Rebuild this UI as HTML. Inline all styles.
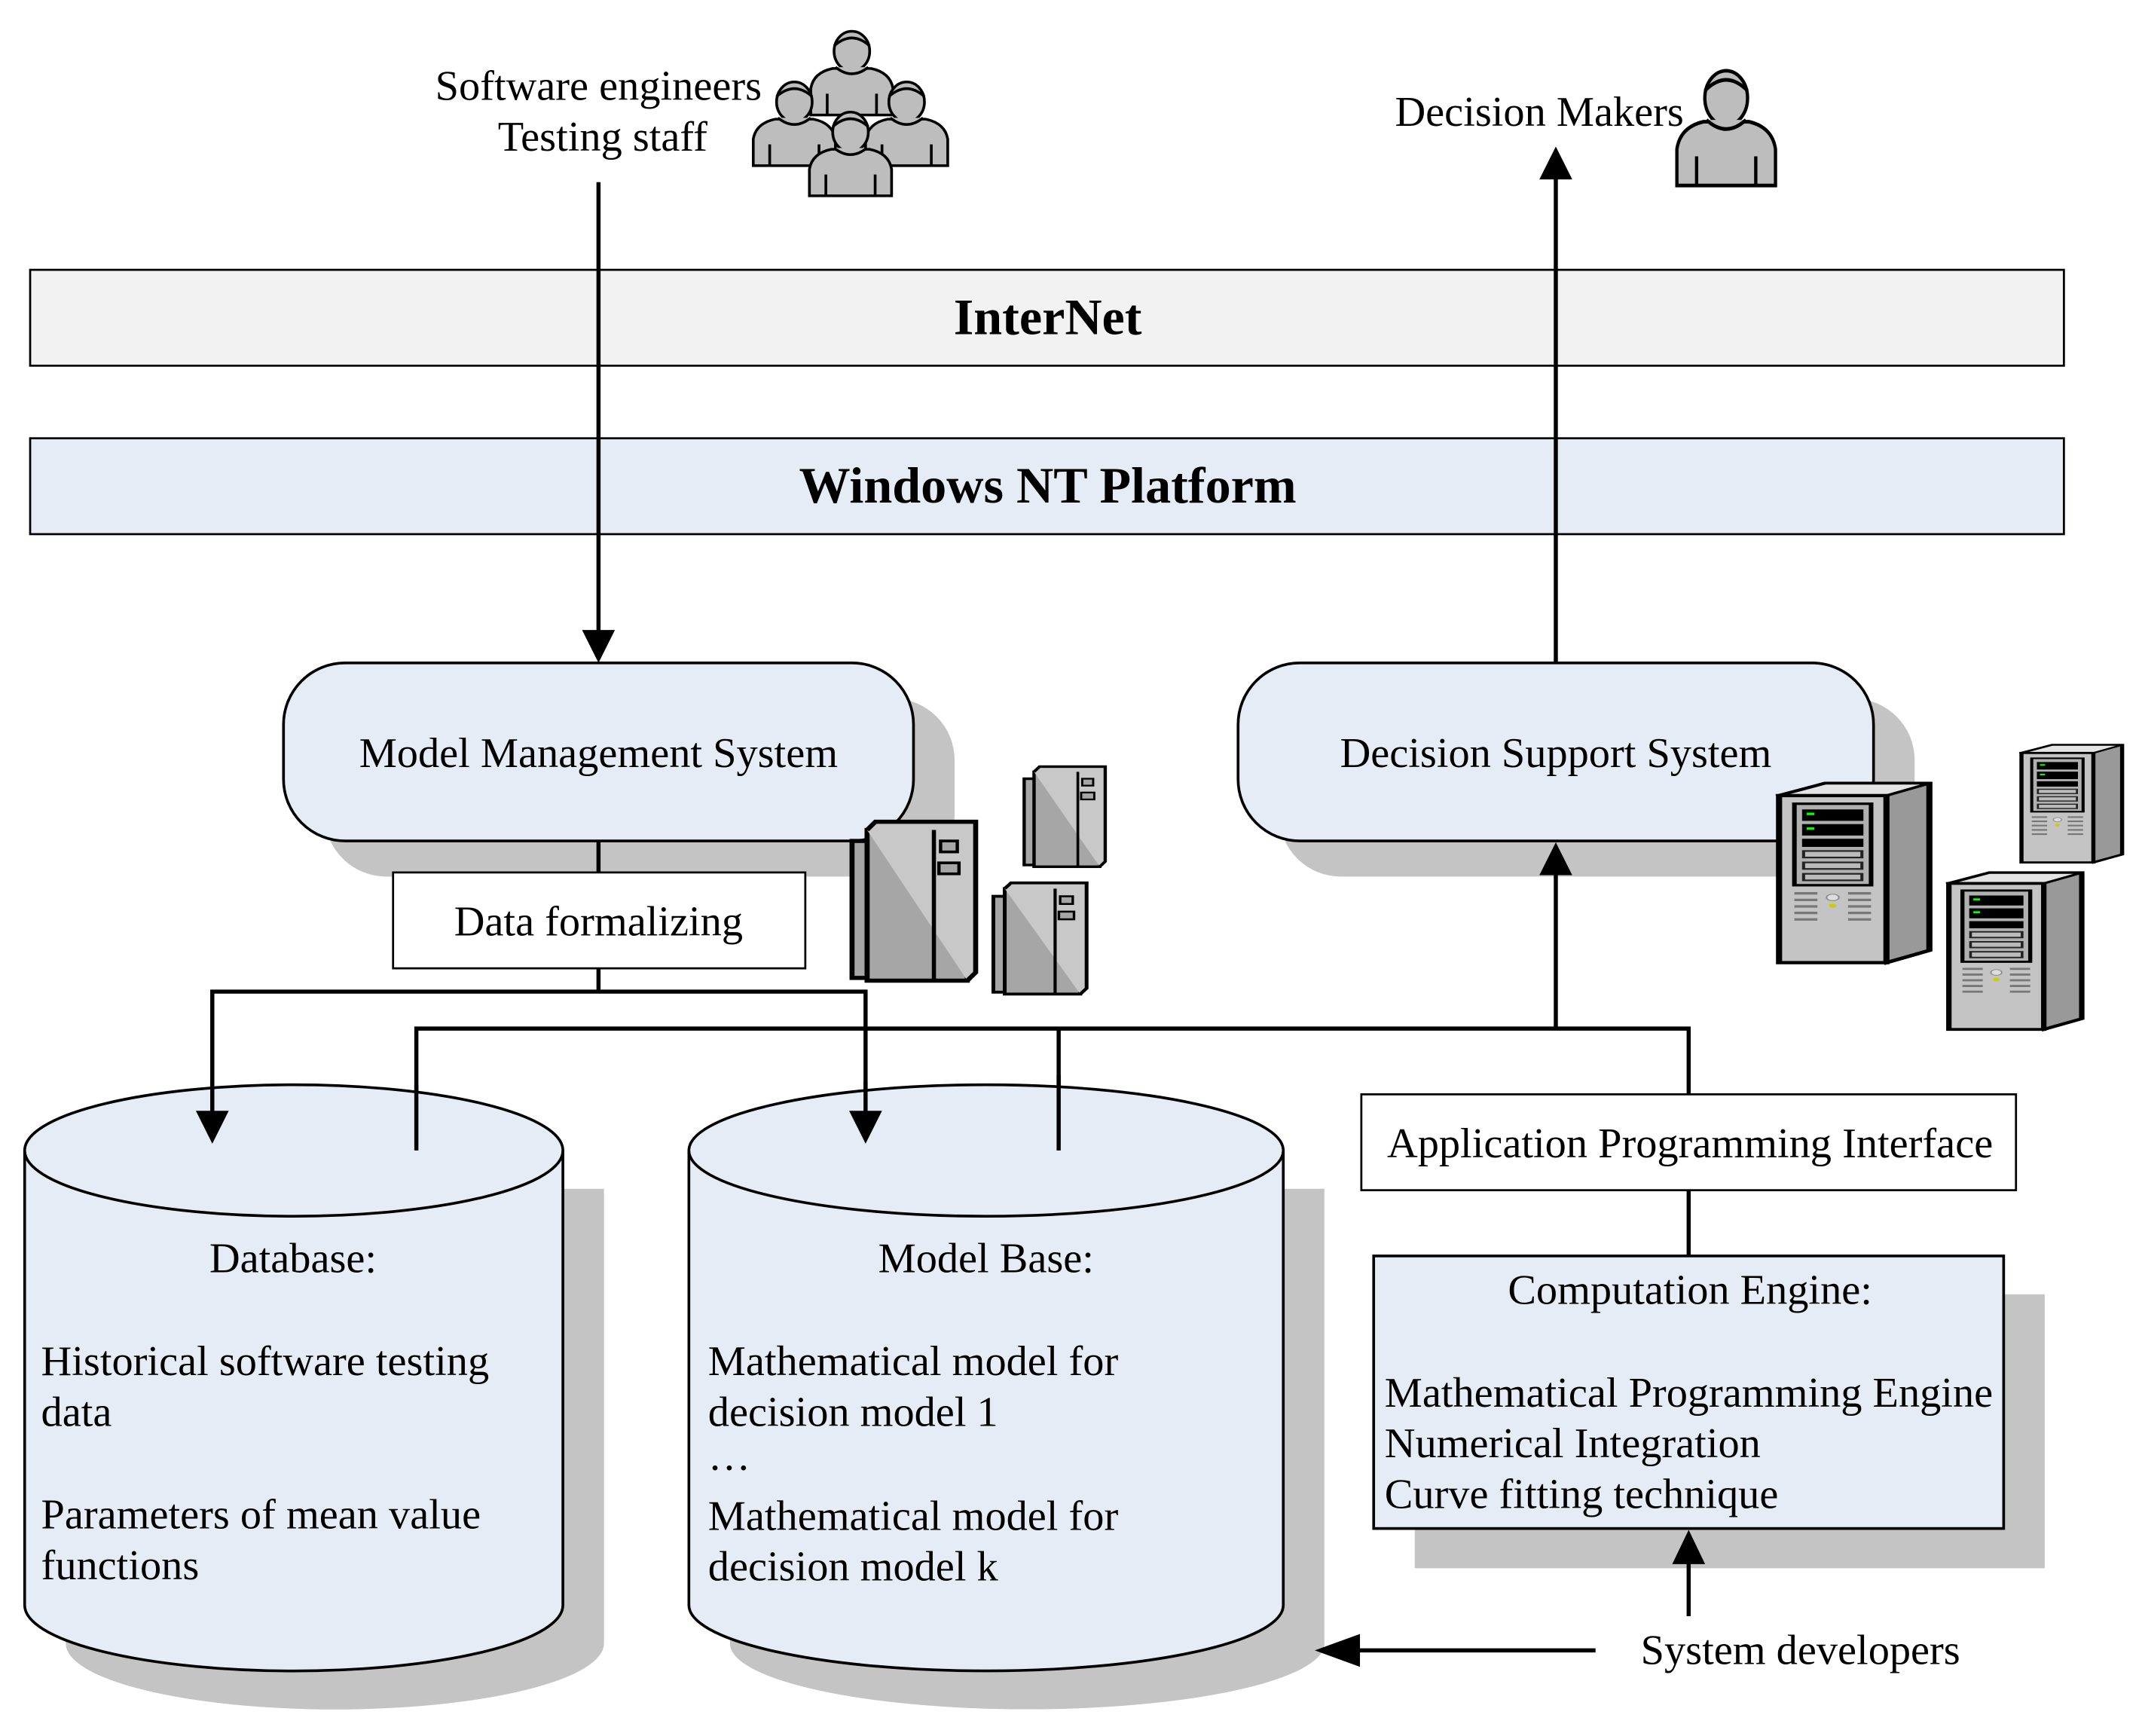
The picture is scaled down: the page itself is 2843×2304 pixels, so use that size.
<!DOCTYPE html>
<html><head><meta charset="utf-8"><style>html,body{margin:0;padding:0;background:#fff}svg{display:block}</style></head>
<body>
<svg width="2843" height="2304" viewBox="0 0 1564 1267.5" xmlns="http://www.w3.org/2000/svg" font-family="'Liberation Serif', serif">
<defs>
<g id="person">
<path d="M2,68 L2,48 Q4,36 18,33 L46,33 Q60,36 62,48 L62,68 Z" fill="#bdbdbd" stroke="#000" stroke-width="2"/>
<path d="M14,68 L14,52 M50,68 L50,52" stroke="#000" stroke-width="2"/>
<ellipse cx="32" cy="20" rx="13" ry="15" fill="#bdbdbd" stroke="#000" stroke-width="2"/>
<path d="M19,16 Q32,4 45,16" fill="none" stroke="#000" stroke-width="2"/>
<path d="M20,32 Q32,42 44,32" fill="#bdbdbd" stroke="#000" stroke-width="2"/>
</g>
<g id="cab">
<rect x="5" y="4" width="60" height="110" fill="#a6a6a6" stroke="#000" stroke-width="3"/>
<path d="M5,4 L10,-2 L70,-2 L70,108 L65,114" fill="#c8c8c8" stroke="#000" stroke-width="3"/>
<rect x="-4" y="12" width="9" height="100" fill="#a6a6a6" stroke="#000" stroke-width="3"/>
<line x1="45" y1="4" x2="45" y2="114" stroke="#000" stroke-width="2.5"/>
<rect x="49" y="12" width="10" height="8" fill="#a6a6a6" stroke="#000" stroke-width="2"/>
<rect x="48" y="28" width="12" height="8" fill="#a6a6a6" stroke="#000" stroke-width="2"/>
</g>
<g id="tower">
<path d="M0,25 L30,10 L98,10 L98,215 L70,230 Z" fill="#999" stroke="#000" stroke-width="4"/>
<path d="M0,25 L30,10 L98,10 L70,25 Z" fill="#e4e4e4" stroke="#000" stroke-width="3"/>
<rect x="0" y="25" width="70" height="205" fill="#c4c4c4" stroke="#000" stroke-width="4"/>
<rect x="10" y="35" width="50" height="100" fill="#b0b0b0" stroke="#000" stroke-width="3"/>
<rect x="15" y="42" width="40" height="14" fill="#000"/>
<rect x="15" y="60" width="40" height="14" fill="#000"/>
<rect x="15" y="78" width="40" height="10" fill="#000"/>
<rect x="15" y="92" width="40" height="10" fill="#222"/><rect x="17" y="94" width="36" height="6" fill="#bbb"/>
<rect x="15" y="106" width="40" height="10" fill="#222"/><rect x="17" y="108" width="36" height="6" fill="#bbb"/>
<rect x="15" y="120" width="40" height="10" fill="#222"/><rect x="17" y="122" width="36" height="6" fill="#bbb"/>
<rect x="18" y="46" width="5" height="3" fill="#0f0"/><rect x="18" y="64" width="5" height="3" fill="#0f0"/>
<g stroke="#777" stroke-width="3"><line x1="10" y1="145" x2="25" y2="145"/><line x1="45" y1="145" x2="60" y2="145"/><line x1="10" y1="153" x2="25" y2="153"/><line x1="45" y1="153" x2="60" y2="153"/><line x1="10" y1="161" x2="25" y2="161"/><line x1="45" y1="161" x2="60" y2="161"/><line x1="10" y1="169" x2="25" y2="169"/><line x1="45" y1="169" x2="60" y2="169"/><line x1="10" y1="177" x2="25" y2="177"/><line x1="45" y1="177" x2="60" y2="177"/></g>
<circle cx="35" cy="150" r="4" fill="#ddd" stroke="#888"/><circle cx="35" cy="160" r="2.5" fill="#cc0"/>
</g>
</defs>

<text x="437" y="73" font-size="31" text-anchor="middle">Software engineers</text>
<text x="440" y="110" font-size="31" text-anchor="middle">Testing staff</text>
<use href="#person" transform="translate(590,18) scale(1,0.97)"/>
<use href="#person" transform="translate(548,55) scale(1,0.97)"/>
<use href="#person" transform="translate(630,55) scale(1,0.97)"/>
<use href="#person" transform="translate(589,77) scale(1,0.97)"/>
<text x="1124" y="92" font-size="31" text-anchor="middle">Decision Makers</text>
<use href="#person" transform="translate(1222,45) scale(1.2,1.33)"/>

<rect x="22" y="197" width="1485" height="70" fill="#f2f2f2" stroke="#000" stroke-width="1.5"/>
<text x="765" y="244" font-size="37.5" font-weight="bold" text-anchor="middle">InterNet</text>
<rect x="22" y="320" width="1485" height="70" fill="#e6ecf6" stroke="#000" stroke-width="1.5"/>
<text x="765" y="367" font-size="37.5" font-weight="bold" text-anchor="middle">Windows NT Platform</text>

<line x1="437" y1="133" x2="437" y2="462" stroke="#000" stroke-width="3"/>
<polygon points="425,460 449,460 437,484" fill="#000"/>
<line x1="1136" y1="484" x2="1136" y2="128" stroke="#000" stroke-width="3"/>
<polygon points="1124,131 1148,131 1136,107" fill="#000"/>

<rect x="237" y="510" width="460" height="130" rx="45" fill="#c4c4c4"/>
<rect x="934" y="510" width="464" height="130" rx="45" fill="#c4c4c4"/>
<rect x="1033" y="945" width="460" height="200" fill="#c4c4c4"/>
<path d="M48,868 L48,1200 A196,48 0 0 0 441,1200 L441,868 Z" fill="#c4c4c4"/>
<path d="M533,868 L533,1200 A217,48 0 0 0 967,1200 L967,868 Z" fill="#c4c4c4"/>

<rect x="207" y="484" width="460" height="130" rx="45" fill="#e6ecf6" stroke="#000" stroke-width="2"/>
<text x="437" y="560" font-size="31" text-anchor="middle">Model Management System</text>
<rect x="904" y="484" width="464" height="130" rx="45" fill="#e6ecf6" stroke="#000" stroke-width="2"/>
<text x="1136" y="560" font-size="31" text-anchor="middle">Decision Support System</text>

<line x1="437" y1="614" x2="437" y2="637" stroke="#000" stroke-width="3"/>
<rect x="287" y="637" width="301" height="70" fill="#fff" stroke="#000" stroke-width="1.5"/>
<text x="437" y="683" font-size="31" text-anchor="middle">Data formalizing</text>
<polyline points="437,707 437,724" stroke="#000" stroke-width="3" fill="none"/>
<polyline points="155,813 155,724 632,724 632,813" stroke="#000" stroke-width="3" fill="none"/>
<polyline points="304,840 304,751 1233,751 1233,799" stroke="#000" stroke-width="3" fill="none"/>
<line x1="773" y1="751" x2="773" y2="840" stroke="#000" stroke-width="3"/>
<line x1="1136" y1="751" x2="1136" y2="636" stroke="#000" stroke-width="3"/>
<polygon points="1124,639 1148,639 1136,615" fill="#000"/>

<path d="M18,840 L18,1172 A196.5,48 0 0 0 411,1172 L411,840" fill="#e6ecf6" stroke="#000" stroke-width="2"/>
<ellipse cx="214.5" cy="840" rx="196.5" ry="48" fill="#e6ecf6" stroke="#000" stroke-width="2"/>
<line x1="304" y1="792" x2="304" y2="840" stroke="#000" stroke-width="3"/>
<path d="M503,840 L503,1172 A217,48 0 0 0 937,1172 L937,840" fill="#e6ecf6" stroke="#000" stroke-width="2"/>
<ellipse cx="720" cy="840" rx="217" ry="48" fill="#e6ecf6" stroke="#000" stroke-width="2"/>
<line x1="773" y1="785" x2="773" y2="840" stroke="#000" stroke-width="3"/>
<polygon points="143,811 167,811 155,835" fill="#000"/>
<polygon points="620,811 644,811 632,835" fill="#000"/>
<line x1="155" y1="790" x2="155" y2="812" stroke="#000" stroke-width="3"/>
<line x1="632" y1="790" x2="632" y2="812" stroke="#000" stroke-width="3"/>

<g font-size="31" xml:space="preserve">
<text x="214" y="929" text-anchor="middle">Database:</text>
<text x="30" y="1004">Historical software testing</text>
<text x="30" y="1041">data</text>
<text x="30" y="1116">Parameters  of mean value</text>
<text x="30" y="1153">functions</text>
<text x="720" y="929" text-anchor="middle">Model Base:</text>
<text x="517" y="1004">Mathematical model for</text>
<text x="517" y="1041">decision model 1</text>
<text x="517" y="1073">…</text>
<text x="517" y="1117">Mathematical model for</text>
<text x="517" y="1154">decision model k</text>
</g>

<rect x="994" y="799" width="478" height="70" fill="#fff" stroke="#000" stroke-width="1.5"/>
<text x="1234" y="845" font-size="31" text-anchor="middle">Application Programming Interface</text>
<line x1="1233" y1="869" x2="1233" y2="917" stroke="#000" stroke-width="3"/>
<rect x="1003" y="917" width="460" height="199" fill="#e6ecf6" stroke="#000" stroke-width="2"/>
<g font-size="31">
<text x="1234" y="952" text-anchor="middle">Computation Engine:</text>
<text x="1011" y="1027">Mathematical Programming Engine</text>
<text x="1011" y="1064">Numerical Integration</text>
<text x="1011" y="1101">Curve fitting technique</text>
<text x="1198" y="1215">System developers</text>
</g>
<line x1="1233" y1="1180" x2="1233" y2="1140" stroke="#000" stroke-width="3"/>
<polygon points="1221,1142 1245,1142 1233,1117" fill="#000"/>
<line x1="1165" y1="1205" x2="990" y2="1205" stroke="#000" stroke-width="3"/>
<polygon points="993,1193 993,1217 960,1205" fill="#000"/>

<use href="#cab" transform="translate(627,602) scale(1.22,1)"/>
<use href="#cab" transform="translate(751,561) scale(0.8,0.63)"/>
<use href="#cab" transform="translate(729,646) scale(0.92,0.7)"/>
<use href="#tower" transform="translate(1299,566) scale(1.12,0.595)"/>
<use href="#tower" transform="translate(1476,540) scale(0.75,0.39)"/>
<use href="#tower" transform="translate(1423,632) scale(0.99,0.52)"/>
</svg>
</body></html>
